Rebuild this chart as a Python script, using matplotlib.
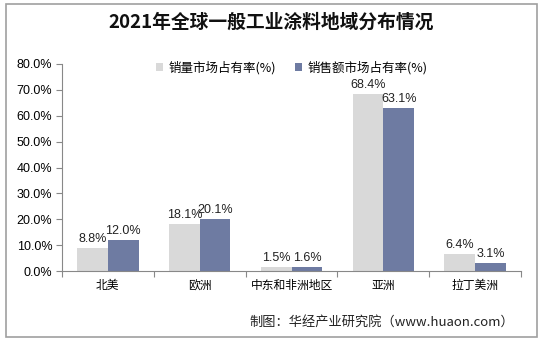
import matplotlib
matplotlib.use("Agg")
import matplotlib.pyplot as plt
import numpy as np
from matplotlib.patches import Rectangle

plt.rcParams['font.family'] = ['Noto Sans CJK SC', 'DejaVu Sans']

regions = ["北美", "欧洲", "中东和非洲地区", "亚洲", "拉丁美洲"]
volume_share = [8.8, 18.1, 1.5, 68.4, 6.4]
value_share = [12.0, 20.1, 1.6, 63.1, 3.1]
yticks = [0, 10, 20, 30, 40, 50, 60, 70, 80]

fig = plt.figure(figsize=(5.42, 3.41), dpi=100)
fig.patches.append(Rectangle((0.011, 0.012), 0.98, 0.976, transform=fig.transFigure,
                             fill=False, edgecolor="#A0A0A0", linewidth=1.2))

ax = fig.add_axes([62/542, 70/341, (521-62)/542, (271-64)/341])
x = np.arange(len(regions))
w = 0.335
c1, c2 = "#D9D9D9", "#6E7BA2"
num_font = "Liberation Sans"
ax.bar(x - w/2, volume_share, w, color=c1, label="销量市场占有率(%)")
ax.bar(x + w/2, value_share, w, color=c2, label="销售额市场占有率(%)")

for xi, v in zip(x - w/2, volume_share):
    ax.text(xi, v + 1.2, f"{v:.1f}%", ha="center", va="bottom", fontsize=9,
            family=num_font, color="#222222")
for xi, v in zip(x + w/2, value_share):
    ax.text(xi, v + 1.2, f"{v:.1f}%", ha="center", va="bottom", fontsize=9,
            family=num_font, color="#222222")

ax.set_xlim(-0.5, len(regions) - 0.5)
ax.set_ylim(0, 80)
ax.set_yticks(yticks)
ax.set_yticklabels([f"{t:.1f}%" for t in yticks], family=num_font, fontsize=9)
ax.set_xticks(np.arange(len(regions) + 1) - 0.5)
ax.set_xticklabels([])
ax.set_xticks(x, minor=True)
ax.set_xticklabels(regions, minor=True, fontsize=8.5)
ax.tick_params(axis="x", which="minor", length=0, pad=6)
ax.tick_params(axis="x", which="major", length=4, color="#888888", direction="out")
ax.tick_params(axis="y", length=4, color="#888888", direction="out", pad=3)
for s in ["top", "right"]:
    ax.spines[s].set_visible(False)
for s in ["left", "bottom"]:
    ax.spines[s].set_color("#888888")

ax.legend(loc="upper center", bbox_to_anchor=(0.5, 1.07), ncol=2, frameon=False,
          fontsize=9, handlelength=0.6, handleheight=0.6, columnspacing=1.5,
          handletextpad=0.4)

fig.text(0.5, 0.935, "2021年全球一般工业涂料地域分布情况", ha="center", va="center",
         fontsize=13.5, fontweight="bold", color="#111111")
fig.text(514/542, 1 - 322/341, "制图：华经产业研究院（www.huaon.com）", ha="right",
         va="center", fontsize=9.5, color="#222222")

fig.savefig("out.png", dpi=100)
